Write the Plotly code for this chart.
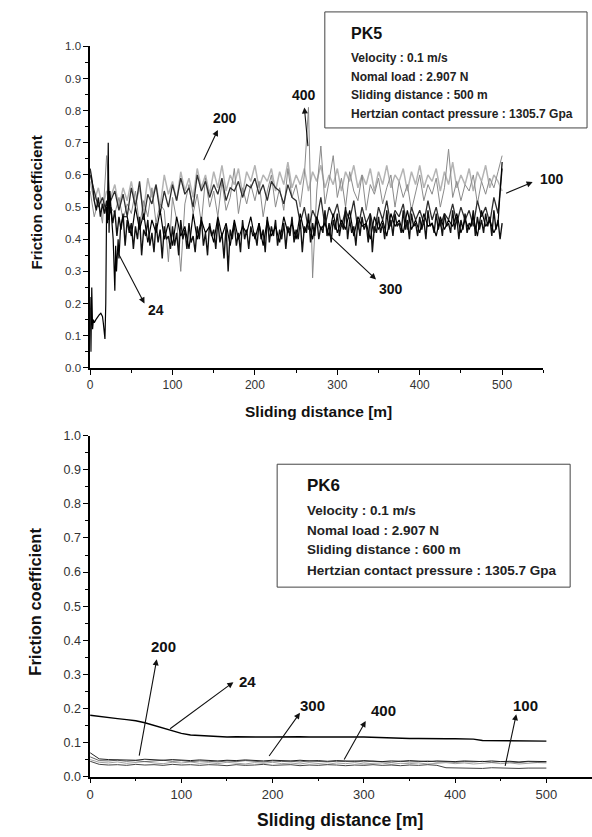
import numpy as np
import plotly.graph_objects as go

# ---------------- DATA ----------------
# PK5 (top panel) - friction coefficient vs sliding distance
PK5_X_FINE = np.arange(0, 500.01, 2.5)     # 201 samples
PK5_X_COARSE = np.arange(0, 500.01, 5)     # 101 samples

pk5_300 = [
    0.62, 0.58, 0.52, 0.49, 0.53, 0.47, 0.51, 0.48, 0.52, 0.46,
    0.50, 0.45, 0.49, 0.41, 0.47, 0.43, 0.48, 0.38, 0.46, 0.42,
    0.45, 0.37, 0.44, 0.40, 0.47, 0.35, 0.43, 0.41, 0.46, 0.38,
    0.42, 0.36, 0.45, 0.39, 0.43, 0.34, 0.44, 0.40, 0.41, 0.37,
    0.44, 0.38, 0.42, 0.35, 0.46, 0.40, 0.43, 0.37, 0.45, 0.39,
    0.41, 0.36, 0.44, 0.40, 0.47, 0.38, 0.42, 0.35, 0.45, 0.41,
    0.43, 0.37, 0.46, 0.39, 0.42, 0.34, 0.44, 0.30, 0.43, 0.40,
    0.45, 0.38, 0.42, 0.36, 0.46, 0.40, 0.43, 0.37, 0.44, 0.41,
    0.42, 0.38, 0.45, 0.40, 0.43, 0.36, 0.47, 0.39, 0.44, 0.41,
    0.46, 0.38, 0.43, 0.40, 0.45, 0.37, 0.44, 0.41, 0.47, 0.39,
    0.43, 0.40, 0.46, 0.36, 0.44, 0.42, 0.48, 0.39, 0.45, 0.41,
    0.47, 0.40, 0.44, 0.42, 0.49, 0.41, 0.45, 0.39, 0.46, 0.43,
    0.48, 0.41, 0.45, 0.43, 0.50, 0.40, 0.46, 0.42, 0.44, 0.38,
    0.46, 0.41, 0.47, 0.43, 0.45, 0.39, 0.48, 0.36, 0.44, 0.42,
    0.47, 0.42, 0.45, 0.40, 0.49, 0.43, 0.46, 0.41, 0.48, 0.44,
    0.45, 0.42, 0.49, 0.43, 0.46, 0.40, 0.48, 0.44, 0.45, 0.41,
    0.47, 0.43, 0.46, 0.40, 0.49, 0.44, 0.45, 0.42, 0.48, 0.43,
    0.46, 0.41, 0.48, 0.44, 0.45, 0.42, 0.49, 0.43, 0.47, 0.40,
    0.46, 0.43, 0.48, 0.42, 0.45, 0.44, 0.49, 0.41, 0.47, 0.43,
    0.46, 0.42, 0.48, 0.44, 0.47, 0.41, 0.49, 0.43, 0.46, 0.40,
    0.45,
]

pk5_200 = [
    0.60, 0.55, 0.50, 0.53, 0.48, 0.52, 0.55, 0.49, 0.54, 0.47,
    0.56, 0.50, 0.58, 0.46, 0.54, 0.51, 0.57, 0.48, 0.55, 0.50,
    0.57, 0.52, 0.59, 0.54, 0.56, 0.50, 0.60, 0.55, 0.58, 0.53,
    0.57, 0.54, 0.59, 0.52, 0.56, 0.55, 0.58, 0.53, 0.57, 0.56,
    0.59, 0.54, 0.57, 0.52, 0.58, 0.56, 0.55, 0.51, 0.57, 0.53,
    0.52, 0.45, 0.50, 0.43, 0.49, 0.46, 0.53, 0.44, 0.50, 0.47,
    0.51, 0.44, 0.49, 0.46, 0.52, 0.43, 0.50, 0.45, 0.48, 0.42,
    0.50, 0.46, 0.52, 0.44, 0.49, 0.47, 0.51, 0.43, 0.50, 0.46,
    0.49, 0.45, 0.52, 0.46, 0.50, 0.44, 0.48, 0.46, 0.51, 0.45,
    0.50, 0.46, 0.49, 0.44, 0.52, 0.47, 0.50, 0.45, 0.53, 0.48,
    0.62,
]

pk5_100 = [
    0.58, 0.52, 0.56, 0.50, 0.55, 0.53, 0.57, 0.50, 0.56, 0.52,
    0.58, 0.51, 0.56, 0.49, 0.59, 0.53, 0.57, 0.50, 0.60, 0.54,
    0.58, 0.52, 0.61, 0.55, 0.59, 0.53, 0.62, 0.56, 0.60, 0.54,
    0.61, 0.56, 0.63, 0.55, 0.60, 0.57, 0.62, 0.54, 0.61, 0.58,
    0.63, 0.56, 0.60, 0.58, 0.62, 0.55, 0.61, 0.57, 0.64, 0.56,
    0.60, 0.57, 0.62, 0.55, 0.61, 0.58, 0.63, 0.56, 0.60, 0.57,
    0.62, 0.55, 0.61, 0.58, 0.63, 0.56, 0.60, 0.57, 0.62, 0.55,
    0.61, 0.57, 0.63, 0.56, 0.60, 0.58, 0.62, 0.55, 0.61, 0.57,
    0.63, 0.56, 0.60, 0.58, 0.62, 0.55, 0.61, 0.57, 0.64, 0.56,
    0.60, 0.57, 0.62, 0.55, 0.61, 0.58, 0.63, 0.56, 0.60, 0.58,
    0.55,
]

pk5_400 = [
    0.55, 0.47, 0.52, 0.45, 0.66, 0.50, 0.48, 0.53, 0.46, 0.51,
    0.48, 0.55, 0.44, 0.52, 0.47, 0.56, 0.45, 0.51, 0.49, 0.33,
    0.53, 0.46, 0.30, 0.51, 0.57, 0.48, 0.54, 0.45, 0.59, 0.50,
    0.55, 0.47, 0.58, 0.49, 0.53, 0.62, 0.48, 0.56, 0.51, 0.57,
    0.52, 0.58, 0.47, 0.55, 0.60, 0.50, 0.56, 0.49, 0.62, 0.53,
    0.57, 0.50, 0.60, 0.81, 0.28, 0.55, 0.69, 0.51, 0.58, 0.66,
    0.53, 0.59, 0.50, 0.61, 0.55, 0.52, 0.60, 0.49, 0.57, 0.54,
    0.59, 0.51, 0.56, 0.60, 0.50, 0.58, 0.53, 0.57, 0.49, 0.55,
    0.60, 0.52, 0.57, 0.54, 0.59, 0.50, 0.56, 0.68, 0.53, 0.58,
    0.52, 0.57, 0.55, 0.60, 0.51, 0.58, 0.54, 0.59, 0.56, 0.61,
    0.66,
]

pk5_24_x = [0, 1, 2, 3, 4, 5, 7, 9, 11, 13, 15, 16, 17, 18, 19, 20, 21, 22,
            23, 24, 26, 28, 30, 31, 32, 33, 34, 35, 37, 40] + list(np.arange(45, 500.01, 5))
pk5_24 = [
    0.22, 0.05, 0.25, 0.12, 0.15, 0.14, 0.15, 0.16, 0.165, 0.17,
    0.16, 0.14, 0.12, 0.09, 0.20, 0.50, 0.45, 0.70, 0.42, 0.55,
    0.47, 0.40, 0.24, 0.38, 0.30, 0.36, 0.40, 0.34, 0.44, 0.47,
    0.47, 0.41, 0.50, 0.43, 0.48, 0.39, 0.46, 0.42, 0.49, 0.40,
    0.45, 0.38, 0.47, 0.41, 0.44, 0.37, 0.48, 0.40, 0.46, 0.42,
    0.44, 0.39, 0.47, 0.41, 0.45, 0.38, 0.46, 0.40, 0.44, 0.42,
    0.47, 0.40, 0.45, 0.38, 0.46, 0.41, 0.44, 0.39, 0.47, 0.42,
    0.45, 0.40, 0.48, 0.42, 0.46, 0.40, 0.47, 0.43, 0.45, 0.41,
    0.48, 0.42, 0.46, 0.43, 0.49, 0.41, 0.47, 0.44, 0.45, 0.40,
    0.47, 0.43, 0.46, 0.41, 0.48, 0.44, 0.46, 0.42, 0.49, 0.43,
    0.46, 0.42, 0.48, 0.44, 0.45, 0.41, 0.47, 0.43, 0.46, 0.44,
    0.48, 0.42, 0.46, 0.43, 0.47, 0.41, 0.49, 0.44, 0.46, 0.42,
    0.45, 0.64,
]

# PK6 (bottom panel)
PK6_X = np.arange(0, 500.01, 10)   # 51 samples
pk6_24 = [
    0.180, 0.176, 0.173, 0.170, 0.167, 0.164, 0.158, 0.150, 0.141, 0.133,
    0.127, 0.122, 0.120, 0.119, 0.118, 0.116, 0.117, 0.116, 0.117, 0.116,
    0.116, 0.117, 0.116, 0.117, 0.116, 0.117, 0.116, 0.116, 0.115, 0.116,
    0.116, 0.115, 0.113, 0.113, 0.112, 0.112, 0.112, 0.111, 0.112, 0.111,
    0.111, 0.111, 0.110, 0.106, 0.106, 0.106, 0.105, 0.106, 0.105, 0.105,
    0.104,
]
pk6_200 = [
    0.070, 0.052, 0.050, 0.049, 0.050, 0.048, 0.051, 0.049, 0.048, 0.050,
    0.049, 0.047, 0.049, 0.048, 0.046, 0.048, 0.047, 0.049, 0.047, 0.046,
    0.048, 0.047, 0.046, 0.048, 0.046, 0.047, 0.045, 0.047, 0.046, 0.045,
    0.047, 0.046, 0.044, 0.046, 0.045, 0.047, 0.045, 0.044, 0.046, 0.045,
    0.044, 0.046, 0.045, 0.044, 0.046, 0.044, 0.045, 0.043, 0.045, 0.044,
    0.044,
]
pk6_300 = [
    0.058, 0.047, 0.046, 0.048, 0.045, 0.047, 0.044, 0.046, 0.048, 0.045,
    0.047, 0.044, 0.046, 0.045, 0.043, 0.046, 0.044, 0.047, 0.045, 0.043,
    0.046, 0.044, 0.045, 0.043, 0.046, 0.044, 0.043, 0.045, 0.044, 0.046,
    0.043, 0.045, 0.044, 0.042, 0.045, 0.043, 0.044, 0.046, 0.043, 0.044,
    0.042, 0.044, 0.043, 0.045, 0.042, 0.044, 0.043, 0.041, 0.044, 0.042,
    0.043,
]
pk6_400 = [
    0.050, 0.042, 0.040, 0.043, 0.039, 0.041, 0.044, 0.040, 0.038, 0.042,
    0.040, 0.043, 0.039, 0.041, 0.038, 0.042, 0.040, 0.037, 0.041, 0.039,
    0.042, 0.038, 0.040, 0.037, 0.041, 0.039, 0.036, 0.040, 0.038, 0.041,
    0.037, 0.039, 0.040, 0.036, 0.039, 0.038, 0.040, 0.037, 0.039, 0.041,
    0.038, 0.040, 0.037, 0.039, 0.041, 0.038, 0.040, 0.037, 0.039, 0.041,
    0.040,
]
pk6_100 = [
    0.045, 0.036, 0.034, 0.035, 0.033, 0.036, 0.034, 0.035, 0.033, 0.036,
    0.034, 0.035, 0.033, 0.035, 0.034, 0.032, 0.035, 0.033, 0.034, 0.036,
    0.033, 0.034, 0.035, 0.032, 0.034, 0.033, 0.035, 0.034, 0.032, 0.034,
    0.033, 0.035, 0.033, 0.034, 0.032, 0.034, 0.033, 0.035, 0.033, 0.026,
    0.025, 0.026, 0.025, 0.024, 0.026, 0.025, 0.026, 0.024, 0.025, 0.026,
    0.025,
]

X_TICKS = [0, 100, 200, 300, 400, 500]
Y_TICKS = [0.0, 0.1, 0.2, 0.3, 0.4, 0.5, 0.6, 0.7, 0.8, 0.9, 1.0]

INFO_PK5 = ["Velocity : 0.1 m/s", "Nomal load : 2.907 N",
            "Sliding distance : 500 m", "Hertzian contact pressure : 1305.7 Gpa"]
INFO_PK6 = ["Velocity : 0.1 m/s", "Nomal load : 2.907 N",
            "Sliding distance : 600 m", "Hertzian contact pressure : 1305.7 Gpa"]

# ---------------- FIGURE ----------------
W, H = 592, 837
FONT = "Liberation Sans, Arial, sans-serif"


def px(x):
    return x / W


def py(y):
    return 1 - y / H


fig = go.Figure()


def line(x, y, color, width, xa, ya):
    fig.add_trace(go.Scatter(x=list(x), y=y, mode="lines",
                             line=dict(color=color, width=width),
                             xaxis=xa, yaxis=ya, showlegend=False,
                             hoverinfo="skip"))


# top panel traces
line(PK5_X_COARSE, pk5_100, "#b4b4b4", 1.5, "x", "y")
line(PK5_X_COARSE, pk5_400, "#8a8a8a", 1, "x", "y")
line(PK5_X_COARSE, pk5_200, "#2e2e2e", 1.3, "x", "y")
line(PK5_X_FINE, pk5_300, "#111111", 1.4, "x", "y")
line(pk5_24_x, pk5_24, "#000000", 1.2, "x", "y")

# bottom panel traces
line(PK6_X, pk6_400, "#a0a0a0", 1, "x2", "y2")
line(PK6_X, pk6_100, "#444444", 1, "x2", "y2")
line(PK6_X, pk6_300, "#666666", 1, "x2", "y2")
line(PK6_X, pk6_200, "#222222", 1, "x2", "y2")
line(PK6_X, pk6_24, "#000000", 1.4, "x2", "y2")

axis_common = dict(
    showline=True, linecolor="#000", linewidth=1.5, ticks="outside",
    ticklen=5, tickwidth=1.2, tickcolor="#000", showgrid=False, zeroline=False,
    minor=dict(ticks="outside", ticklen=3, tickcolor="#000", tickwidth=1),
)

fig.update_layout(
    width=W, height=H, margin=dict(l=0, r=0, t=0, b=0),
    paper_bgcolor="white", plot_bgcolor="white",
    xaxis=dict(domain=[px(86.7), px(543)], range=[0, 550], anchor="y",
               tickvals=X_TICKS, minor_dtick=50,
               tickfont=dict(family=FONT, size=12, color="#333"), **axis_common),
    yaxis=dict(domain=[py(367), py(40)], range=[0, 1.0], anchor="x",
               tickvals=Y_TICKS, tickformat=".1f", minor_dtick=0.05,
               tickfont=dict(family=FONT, size=11.5, color="#333"), **axis_common),
    xaxis2=dict(domain=[px(86.7), px(592)], range=[0, 550], anchor="y2",
                tickvals=X_TICKS, minor_dtick=50,
                tickfont=dict(family=FONT, size=13, color="#333"), **axis_common),
    yaxis2=dict(domain=[py(782.7), py(436)], range=[0, 1.0], anchor="x2",
                tickvals=Y_TICKS, tickformat=".1f", minor_dtick=0.05,
                tickfont=dict(family=FONT, size=12.5, color="#333"), **axis_common),
)

ann = []
# axis titles
for (x, y, txt, rot, sz) in [
    (33, 199, "Friction coefficient", -90, 15),
    (317, 411, "Sliding distance [m]", 0, 15.5),
    (31, 605, "Friction coefficient", -90, 16.5),
    (338, 827, "Sliding distance [m]", 0, 17.5),
]:
    ann.append(dict(x=px(x), y=py(y), xref="paper", yref="paper", text=f"<b>{txt}</b>",
                    textangle=rot, showarrow=False, xanchor="center", yanchor="middle",
                    font=dict(family=FONT, size=sz, color="#111")))

# info boxes
shapes = [
    dict(type="rect", xref="paper", yref="paper", x0=px(323), x1=px(587),
         y0=py(123), y1=py(5), line=dict(color="#444", width=1)),
    dict(type="rect", xref="paper", yref="paper", x0=px(275), x1=px(570),
         y0=py(590), y1=py(465), line=dict(color="#444", width=1)),
]
ann.append(dict(x=px(347), y=py(27), xref="paper", yref="paper", text="<b>PK5</b>",
                showarrow=False, xanchor="left", yanchor="middle",
                font=dict(family=FONT, size=16, color="#111")))
for t, yy in zip(INFO_PK5, [52, 71, 90, 109]):
    ann.append(dict(x=px(347), y=py(yy), xref="paper", yref="paper", text=f"<b>{t}</b>",
                    showarrow=False, xanchor="left", yanchor="middle",
                    font=dict(family=FONT, size=12, color="#222")))
ann.append(dict(x=px(303), y=py(487), xref="paper", yref="paper", text="<b>PK6</b>",
                showarrow=False, xanchor="left", yanchor="middle",
                font=dict(family=FONT, size=17, color="#111")))
for t, yy in zip(INFO_PK6, [512, 532, 552, 573]):
    ann.append(dict(x=px(303), y=py(yy), xref="paper", yref="paper", text=f"<b>{t}</b>",
                    showarrow=False, xanchor="left", yanchor="middle",
                    font=dict(family=FONT, size=13.5, color="#222")))

# series labels with arrows (head near label, tail on curve)
TOP_LABELS = [  # label, label x, label y, head x, head y, tail x, tail y
    ("200", 164, 0.777, 155, 0.74, 137, 0.642),
    ("400", 260, 0.85, 260, 0.81, 264.5, 0.685),
    ("100", 560, 0.587, 537, 0.578, 503, 0.541),
    ("300", 365, 0.245, 347, 0.275, 291, 0.41),
    ("24", 80, 0.18, 66, 0.20, 32, 0.367),
]
BOT_LABELS = [
    ("200", 80, 0.383, 73, 0.344, 53.5, 0.057),
    ("24", 172, 0.28, 157, 0.277, 86, 0.137),
    ("300", 244, 0.21, 230, 0.187, 195, 0.056),
    ("400", 321, 0.195, 302, 0.163, 277.5, 0.046),
    ("100", 477, 0.21, 467, 0.183, 454.5, 0.027),
]
# pixel mapping of each panel (for label placement in paper space)
PANELS = {
    "top": dict(xr="x", yr="y", x0=86.7, x1=543, y0=367, y1=40, fs=14),
    "bot": dict(xr="x2", yr="y2", x0=86.7, x1=592, y0=782.7, y1=436, fs=15),
}
for labels, pan in [(TOP_LABELS, PANELS["top"]), (BOT_LABELS, PANELS["bot"])]:
    xr, yr = pan["xr"], pan["yr"]
    for (t, lx, ly, hx, hy, tx, ty) in labels:
        ann.append(dict(x=hx, y=hy, xref=xr, yref=yr, axref=xr, ayref=yr, ax=tx, ay=ty,
                        text="", showarrow=True, arrowhead=2, arrowsize=1.1,
                        arrowwidth=1.1, arrowcolor="#111"))
        lpx = pan["x0"] + lx / 550 * (pan["x1"] - pan["x0"])
        lpy = pan["y0"] + ly * (pan["y1"] - pan["y0"])
        ann.append(dict(x=px(lpx), y=py(lpy), xref="paper", yref="paper",
                        text=f"<b>{t}</b>", showarrow=False,
                        xanchor="center", yanchor="middle",
                        font=dict(family=FONT, size=pan["fs"], color="#111")))

fig.update_layout(annotations=ann, shapes=shapes)

fig.write_html("out.html", config={"displayModeBar": False},
               post_script="document.body.style.margin='0';")
